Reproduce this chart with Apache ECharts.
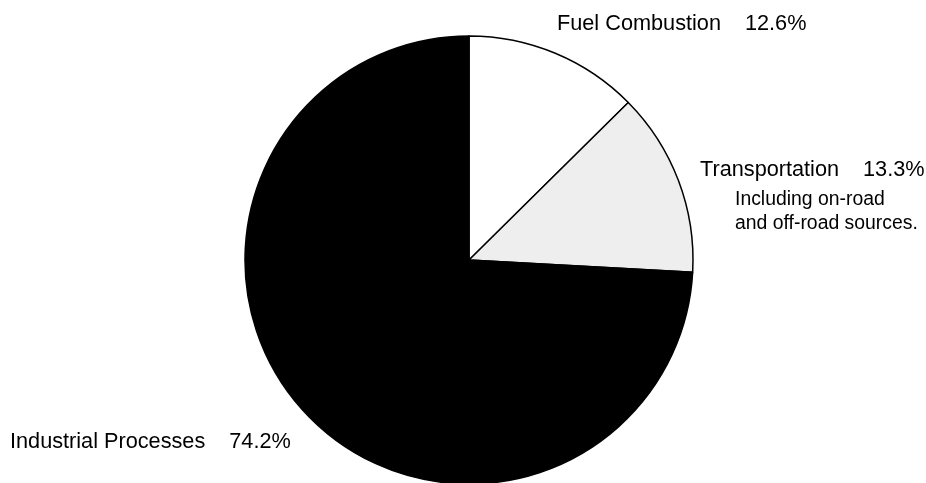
<!DOCTYPE html>
<html>
<head>
<meta charset="utf-8">
<script src="https://cdn.jsdelivr.net/npm/echarts@6/dist/echarts.min.js"></script>
<style>
  html, body { margin: 0; padding: 0; background: #fff; }
  #chart { width: 926px; height: 483px; }
</style>
</head>
<body>
<div id="chart"></div>
<script>
// Emission source shares (percent)
const categories = ['Fuel Combustion', 'Transportation', 'Industrial Processes'];
const shares = [12.6, 13.3, 74.2];
const notes = ['', 'Including on-road\nand off-road sources.', ''];
const fills = ['#ffffff', '#eeeeee', '#000000'];

// Where each slice's caption sits (left edge, middle of its first line)
const labelSpots = [
  { x: 557, y: 24 },
  { x: 700, y: 170 },
  { x: 10, y: 442 }
];

const chart = echarts.init(document.getElementById('chart'), null, { renderer: 'canvas' });

const data = categories.map((name, i) => ({
  name,
  value: shares[i],
  itemStyle: { color: fills[i] }
}));

function captionFor(p) {
  const i = p.dataIndex;
  let s = '{n|' + p.name + '}{v|' + shares[i].toFixed(1) + '%}';
  if (notes[i]) {
    s += notes[i].split('\n').map(line => '\n{s|' + line + '}').join('');
  }
  return s;
}

chart.setOption({
  backgroundColor: '#ffffff',
  animation: false,
  series: [{
    type: 'pie',
    center: [469, 260],
    radius: 224,
    startAngle: 90,
    clockwise: true,
    silent: true,
    data,
    itemStyle: { borderColor: '#000000', borderWidth: 1.5 },
    label: {
      show: true,
      formatter: captionFor,
      overflow: 'none',
      color: '#000000',
      fontFamily: 'Liberation Sans, Arial, sans-serif',
      rich: {
        n: { fontSize: 21.7, lineHeight: 36, color: '#000' },
        v: { fontSize: 21.7, lineHeight: 36, color: '#000', padding: [0, 0, 0, 24] },
        s: { fontSize: 19.4, lineHeight: 24, color: '#000', padding: [0, 0, 0, 35] }
      }
    },
    labelLine: { show: false },
    labelLayout: function (params) {
      const spot = labelSpots[params.dataIndex];
      return { x: spot.x, y: spot.y - 18, align: 'left', verticalAlign: 'top', width: 400 };
    }
  }]
});
</script>
</body>
</html>
